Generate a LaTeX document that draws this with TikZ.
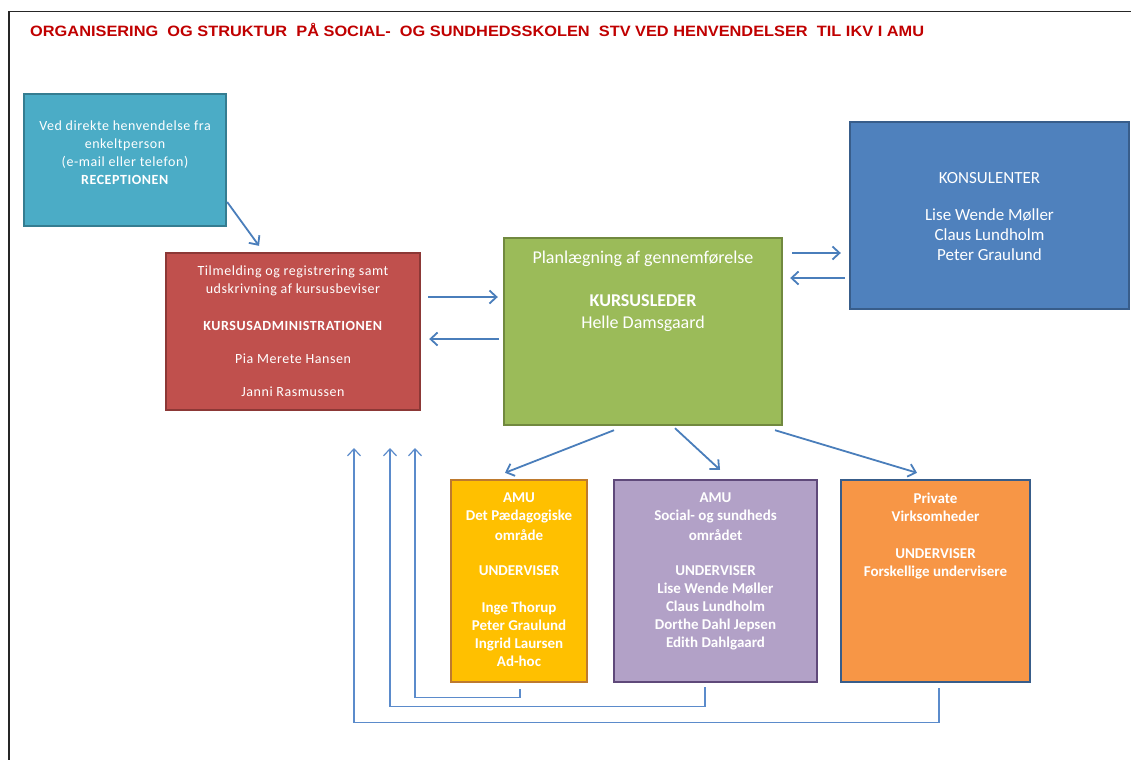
\documentclass[tikz,border=0pt]{standalone}
\usepackage{fontspec}
\setmainfont{Carlito}
\newfontfamily\titelfont{Liberation Sans}
\newfontfamily\spredtfont[LetterSpace=4]{Carlito}
\usetikzlibrary{arrows.meta}

\definecolor{titelrod}{HTML}{C00000}
\definecolor{resepfyld}{HTML}{4BACC6}
\definecolor{resepkant}{HTML}{357D91}
\definecolor{adminfyld}{HTML}{C0504D}
\definecolor{adminkant}{HTML}{8C3836}
\definecolor{planfyld}{HTML}{9BBB59}
\definecolor{plankant}{HTML}{71893F}
\definecolor{konsfyld}{HTML}{4F81BD}
\definecolor{konskant}{HTML}{385D8A}
\definecolor{paedfyld}{HTML}{FFC000}
\definecolor{paedkant}{HTML}{BE7A2E}
\definecolor{socfyld}{HTML}{B2A1C7}
\definecolor{sockant}{HTML}{5F497A}
\definecolor{privfyld}{HTML}{F79646}
\definecolor{privkant}{HTML}{385D8A}
\definecolor{pilblaa}{HTML}{4A7EBB}
\definecolor{returblaa}{HTML}{5B8BCB}

\tikzset{
  boks/.style={rectangle, line width=2.4pt, inner sep=0pt},
  tekst/.style={text=white, align=center, inner sep=0pt, anchor=north},
  pil/.style={draw=pilblaa, line width=1.8pt, -{Straight Barb[length=7pt,width=13pt]}},
  retur/.style={draw=returblaa, line width=1.2pt, -{Straight Barb[length=7pt,width=13pt]}}
}

\begin{document}
\begin{tikzpicture}[x=1pt,y=-1pt]
  \useasboundingbox (0,0) rectangle (1131,760);
  \draw[line width=1.3pt, black!85] (1131,11.5) -- (9,11.5) -- (9,760);
  \node[anchor=west, inner sep=0pt, text=titelrod, xscale=1.09, font=\titelfont\bfseries\fontsize{15}{17}\selectfont] (titel) at (30,30)
    {ORGANISERING\ \ OG STRUKTUR\ \ PÅ SOCIAL-\ \ OG SUNDHEDSSKOLEN\ \ STV VED HENVENDELSER\ \ TIL IKV I AMU};

  % kasser
  \node[boks, fill=resepfyld, draw=resepkant, minimum width=202pt, minimum height=132pt] (resep) at (125,160) {};
  \node[boks, fill=adminfyld, draw=adminkant, minimum width=254pt, minimum height=157pt] (admin) at (293,331.5) {};
  \node[boks, fill=planfyld, draw=plankant, minimum width=278pt, minimum height=187pt] (plan) at (643,331.5) {};
  \node[boks, fill=konsfyld, draw=konskant, minimum width=279pt, minimum height=187pt] (kons) at (989.5,215.5) {};
  \node[boks, fill=paedfyld, draw=paedkant, minimum width=136pt, minimum height=202pt] (paed) at (519,581) {};
  \node[boks, fill=socfyld, draw=sockant, minimum width=203pt, minimum height=202pt] (soc) at (715.5,581) {};
  \node[boks, fill=privfyld, draw=privkant, minimum width=189pt, minimum height=202pt] (priv) at (935.5,581) {};

  % tekster
  \node[tekst, font=\spredtfont\fontsize{14}{18}\selectfont] (resep-t) at (125,121)
    {Ved direkte henvendelse fra\\ enkeltperson\\ (e-mail eller telefon)\\ \textbf{RECEPTIONEN}};
  \node[tekst, font=\spredtfont\fontsize{14}{18}\selectfont] (admin-t) at (293,266)
    {Tilmelding og registrering samt\\ udskrivning af kursusbeviser\\[19pt] \textbf{KURSUSADMINISTRATIONEN}\\[15pt] Pia Merete Hansen\\[15pt] Janni Rasmussen};
  \node[tekst, font=\fontsize{18}{22}\selectfont] (plan-t) at (643,251)
    {Planlægning af gennemførelse\\[21pt] \textbf{KURSUSLEDER}\\ Helle Damsgaard};
  \node[tekst, font=\fontsize{17}{20}\selectfont] (kons-t) at (989.5,172)
    {KONSULENTER\\[17pt] Lise Wende Møller\\ Claus Lundholm\\ Peter Graulund};
  \node[tekst, font=\bfseries\fontsize{15}{18}\selectfont] (paed-t) at (519,493)
    {AMU\\ Det Pædagogiske\\[2pt] område\\[17pt] UNDERVISER\\[19pt] Inge Thorup\\ Peter Graulund\\ Ingrid Laursen\\ Ad-hoc};
  \node[tekst, font=\bfseries\fontsize{15}{18}\selectfont] (soc-t) at (715.5,493)
    {AMU\\ Social- og sundheds\\[2pt] området\\[17pt] UNDERVISER\\ Lise Wende Møller\\ Claus Lundholm\\ Dorthe Dahl Jepsen\\ Edith Dahlgaard};
  \node[tekst, font=\bfseries\fontsize{15}{18}\selectfont] (priv-t) at (935.5,493)
    {Private\\ Virksomheder\\[19pt] UNDERVISER\\ Forskellige undervisere};

  % pile
  \draw[pil] ([yshift=-42pt]resep.east) -- ([xshift=-34pt,yshift=6pt]admin.north);
  \draw[pil] ([xshift=7pt,yshift=34.5pt]admin.east) -- ([xshift=-5pt,yshift=34.5pt]plan.west);
  \draw[pil] ([xshift=-4pt,yshift=-7.5pt]plan.west) -- ([xshift=8pt,yshift=-7.5pt]admin.east);
  \draw[pil] ([xshift=9pt,yshift=78.5pt]plan.east) -- ([xshift=-8pt,yshift=-37.5pt]kons.west);
  \draw[pil] ([xshift=-4pt,yshift=-62.5pt]kons.west) -- ([xshift=7pt,yshift=53.5pt]plan.east);
  \draw[pil] ([xshift=-29pt,yshift=-4pt]plan.south) -- ([xshift=-14pt,yshift=6pt]paed.north);
  \draw[pil] ([xshift=32pt,yshift=-2pt]plan.south) -- ([xshift=4.5pt,yshift=9pt]soc.north);
  \draw[pil] ([xshift=132pt,yshift=-4pt]plan.south) -- ([xshift=-18.5pt,yshift=6pt]priv.north);

  % retur
  \coordinate (retur1) at (415,448);
  \coordinate (retur2) at (390,448);
  \coordinate (retur3) at (354,448);
  \draw[retur] ([xshift=1pt,yshift=-6pt]paed.south) -- ++(0,8) -| (retur1);
  \draw[retur] ([xshift=-10.5pt,yshift=-4pt]soc.south) -- ++(0,19) -| (retur2);
  \draw[retur] ([xshift=3.5pt,yshift=-5pt]priv.south) -- ++(0,34) -| (retur3);
\end{tikzpicture}
\end{document}
